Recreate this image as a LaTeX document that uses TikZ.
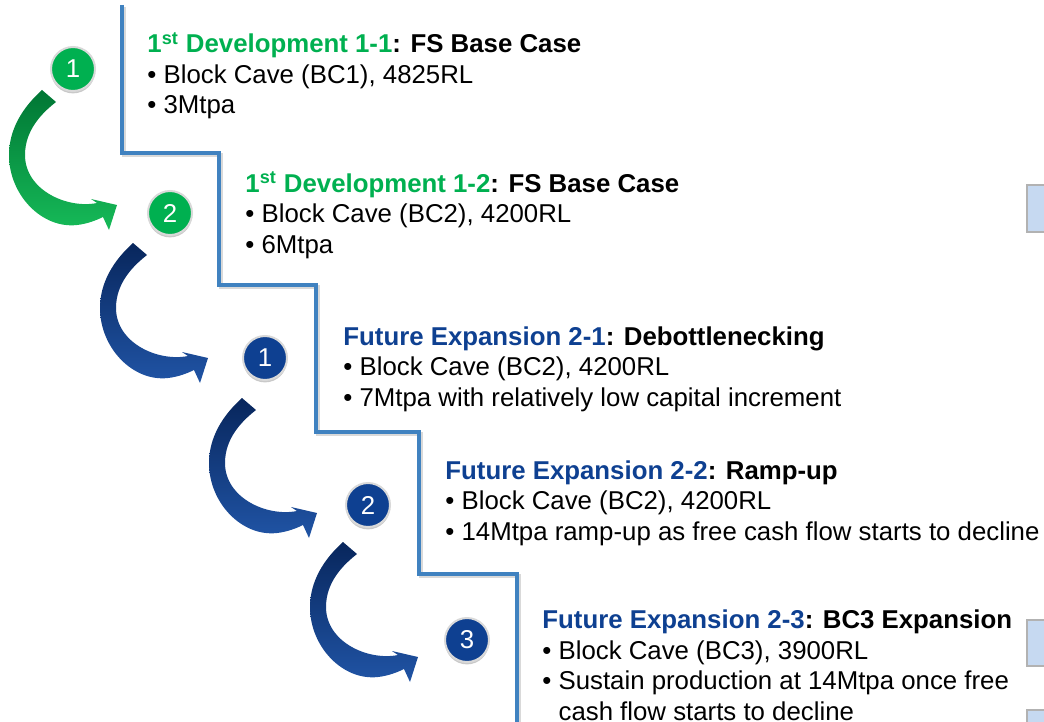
\documentclass[tikz,border=0pt]{standalone}
\usepackage{fontspec}
\setmainfont{Liberation Sans}
\usetikzlibrary{shadows}
\definecolor{grx}{RGB}{0,176,80}
\definecolor{blx}{RGB}{14,64,145}
\definecolor{stx}{RGB}{64,130,192}
\definecolor{bxx}{RGB}{198,217,241}
\definecolor{grd}{RGB}{0,118,52}
\definecolor{grl}{RGB}{22,186,88}
\definecolor{bld}{RGB}{8,38,92}
\definecolor{bll}{RGB}{32,84,165}
\tikzset{
    num/.style={circle,fill=#1,draw=black!15,line width=1pt,minimum size=22pt,inner sep=0pt,
        text=white,font=\fontsize{12.9}{14}\selectfont,
        drop shadow={shadow xshift=0pt,shadow yshift=-1.2pt,opacity=.3,fill=black!70}},
    sect/.style={anchor=base west,align=left,inner sep=0pt,font=\fontsize{12.9}{15.25}\selectfont},
    stair/.style={stx,line width=2pt,line join=miter},
    sidebox/.style={fill=bxx,draw=black!30,line width=.6pt},
    bend/.pic={
        \shade[pic actions] (-75,-115)
            .. controls (-95,-97) and (-108,-75) .. (-108,-50)
            .. controls (-108,-10) and (-75,24) .. (-40,20)
            .. controls (-30,19) and (-20,15) .. (-14,12)
            -- (-8,25) -- (0,0) -- (-26,-6) -- (-20,-2)
            .. controls (-50,4) and (-92,-15) .. (-92,-50)
            .. controls (-92,-75) and (-75,-92) .. (-61,-103)
            -- cycle;
    }
}
\begin{document}
\begin{tikzpicture}[x=0.5pt,y=-0.5pt]
    \clip (0,0) rectangle (1044,722);
    % stair line
    \draw[stair,black!15,shift={(1.5,2)}] (122,5) |- (219,153) |- (316,285) |- (419,432) |- (517,574) -- (517,730);
    \draw[stair] (122,5) |- (219,153) |- (316,285) |- (419,432) |- (517,574) -- (517,730);
    % step numbers
    \node[num=grx] (g1) at (73,69) {1};
    \node[num=grx] (g2) at (170,213) {2};
    \node[num=blx] (b1) at (265,358) {1};
    \node[num=blx] (b2) at (368,505) {2};
    \node[num=blx] (b3) at (467,640) {3};
    \foreach \nd/\dx/\dy/\cd/\cl in {g2/-53/-8/grd/grl,b1/-57/0/bld/bll,b2/-51/8/bld/bll,b3/-49/17/bld/bll} {
        \pic[top color=\cd,bottom color=\cl] at ([shift={(\dx,\dy)}]\nd) {bend};
    }
    % texts (placed at the baseline of their last line)
    \node[sect] (t11) at (147,114) {{\bfseries\textcolor{grx}{1\textsuperscript{st} Development 1-1}: FS Base Case}\\
        \textbullet\ Block Cave (BC1), 4825RL\\
        \textbullet\ 3Mtpa};
    \node[sect] (t12) at (245,253) {{\bfseries\textcolor{grx}{1\textsuperscript{st} Development 1-2}: FS Base Case}\\
        \textbullet\ Block Cave (BC2), 4200RL\\
        \textbullet\ 6Mtpa};
    \node[sect] (t21) at (343,406) {{\bfseries\textcolor{blx}{Future Expansion 2-1}: Debottlenecking}\\
        \textbullet\ Block Cave (BC2), 4200RL\\
        \textbullet\ 7Mtpa with relatively low capital increment};
    \node[sect] (t22) at (445,540) {{\bfseries\textcolor{blx}{Future Expansion 2-2}: Ramp-up}\\
        \textbullet\ Block Cave (BC2), 4200RL\\
        \textbullet\ 14Mtpa ramp-up as free cash flow starts to decline};
    \node[sect] (t23) at (542,720) {{\bfseries\textcolor{blx}{Future Expansion 2-3}: BC3 Expansion}\\
        \textbullet\ Block Cave (BC3), 3900RL\\
        \textbullet\ Sustain production at 14Mtpa once free\\
        \hphantom{\textbullet\ }cash flow starts to decline};
    % cut-off boxes at the right edge
    \draw[sidebox] (1027,185) rectangle (1070,232);
    \draw[sidebox] (1027,620) rectangle (1070,666);
    \draw[sidebox] (1027,710) rectangle (1070,760);
\end{tikzpicture}
\end{document}
